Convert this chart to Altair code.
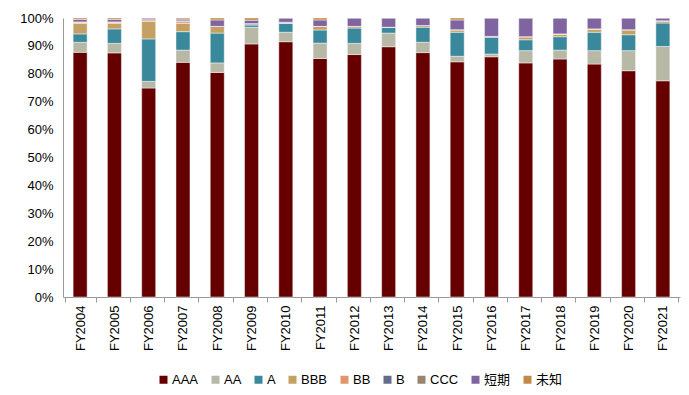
import altair as alt
import pandas as pd

years = ["FY2004", "FY2005", "FY2006", "FY2007", "FY2008", "FY2009", "FY2010", "FY2011", "FY2012",
         "FY2013", "FY2014", "FY2015", "FY2016", "FY2017", "FY2018", "FY2019", "FY2020", "FY2021"]
categories = ["AAA", "AA", "A", "BBB", "BB", "B", "CCC", "短期", "未知"]
colors = ["#660000", "#B8B8A6", "#3A889C", "#C4A062", "#E0966A", "#646C88", "#9A8470", "#8064A0", "#C08A4A"]

AAA = [87.7, 87.5, 74.9, 84.1, 80.5, 90.7, 91.5, 85.5, 86.9, 89.7, 87.6, 84.3, 86.1, 83.9, 85.3, 83.5, 81.1, 77.5]
AA = [3.6, 3.4, 2.4, 4.4, 3.4, 6.0, 3.4, 5.5, 4.0, 4.9, 3.7, 2.0, 1.0, 4.4, 3.2, 4.8, 7.2, 12.3]
A = [3.0, 5.2, 15.2, 6.6, 10.7, 0.9, 3.3, 4.7, 5.5, 2.1, 5.4, 8.6, 6.0, 3.9, 4.8, 6.6, 5.7, 8.4]
BBB = [3.8, 2.0, 6.3, 3.0, 2.4, 0.0, 0.0, 1.3, 0.6, 0.0, 0.6, 0.9, 0.3, 1.1, 1.0, 1.2, 1.8, 0.8]
BB = [0.3, 0.5, 0.6, 0.6, 0.0, 0.0, 0.0, 0.0, 0.0, 0.0, 0.0, 0.0, 0.0, 0.0, 0.0, 0.0, 0.0, 0.0]
B = [0.2, 0.0, 0.0, 0.3, 0.0, 0.4, 0.3, 0.0, 0.0, 0.0, 0.0, 0.0, 0.0, 0.0, 0.0, 0.0, 0.0, 0.0]
CCC = [0.0] * 18
short_term = [0.9, 0.9, 0.6, 0.6, 2.3, 1.2, 1.5, 2.3, 3.0, 3.3, 2.7, 3.5, 6.6, 6.7, 5.7, 3.9, 4.2, 1.0]
unknown = [0.5, 0.5, 0.0, 0.4, 0.7, 0.8, 0.0, 0.7, 0.0, 0.0, 0.0, 0.7, 0.0, 0.0, 0.0, 0.0, 0.0, 0.0]

series = [AAA, AA, A, BBB, BB, B, CCC, short_term, unknown]

rows = []
for ci, (cat, vals) in enumerate(zip(categories, series)):
    for y, v in zip(years, vals):
        rows.append({"year": y, "cat": cat, "idx": ci, "value": v / 100.0})
df = pd.DataFrame(rows)

font = "Liberation Sans, Arial, Noto Sans CJK SC"

chart = alt.Chart(df).mark_bar(size=14, stroke="white", strokeOpacity=0.45, strokeWidth=1).encode(
    x=alt.X("year:N", sort=years, title=None,
            axis=alt.Axis(labelAngle=-90, tickBand="extent", tickSize=5, domainColor="#999999",
                          tickColor="#999999", labelFontSize=13, labelColor="black", labelFont=font,
                          labelPadding=3)),
    y=alt.Y("value:Q", stack="zero", title=None,
            scale=alt.Scale(domain=[0, 1], nice=False),
            axis=alt.Axis(format=".0%", values=[i / 10 for i in range(11)], grid=False, ticks=False,
                          domainColor="#999999", labelFontSize=13, labelColor="black", labelFont=font,
                          labelPadding=10)),
    color=alt.Color("cat:N", scale=alt.Scale(domain=categories, range=colors),
                    legend=alt.Legend(title=None, orient="none", legendX=94, legendY=355,
                                      direction="horizontal", symbolType="square", symbolSize=64,
                                      symbolStrokeWidth=0, labelFontSize=13, labelFont=font,
                                      labelColor="black", labelOffset=2, columnPadding=10)),
    order=alt.Order("idx:Q", sort="ascending"),
).properties(
    width=617, height=279,
    autosize=alt.AutoSizeParams(type="none"),
    padding={"left": 55, "top": 10, "right": 1, "bottom": 90},
).configure_view(stroke=None)

chart.save("out.html", embed_options={"renderer": "svg", "actions": False})
